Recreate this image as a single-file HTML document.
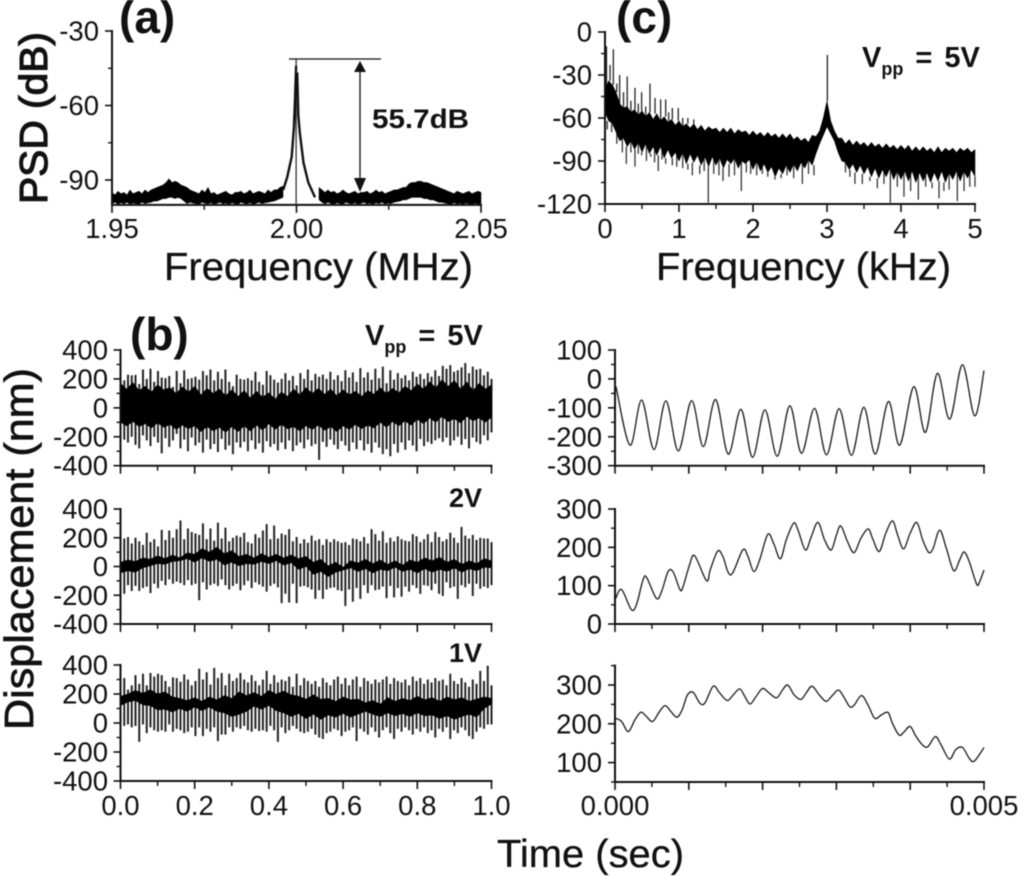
<!DOCTYPE html>
<html lang="en">
<head>
<meta charset="utf-8">
<title>Displacement and PSD measurements</title>
<style>
html,body{margin:0;padding:0;background:#fff;}
svg{display:block;width:1024px;height:877px;filter:blur(0.45px);font-family:"Liberation Sans",sans-serif;fill:#111;}
</style>
</head>
<body>
<svg id="figure" xmlns="http://www.w3.org/2000/svg" width="1024" height="877" viewBox="0 0 1024 877">
<rect x="0" y="0" width="1024" height="877" fill="#fff"/>
<text x="119" y="33" font-size="46" font-weight="bold">(a)</text>
<text x="616" y="33" font-size="46" font-weight="bold">(c)</text>
<text x="130" y="350" font-size="46" font-weight="bold">(b)</text>
<text transform="translate(47,204) rotate(-90)" font-size="39" stroke="#111" stroke-width="1.2" textLength="172" lengthAdjust="spacingAndGlyphs">PSD (dB)</text>
<text x="164" y="280" font-size="39" stroke="#111" stroke-width="0.3" textLength="309" lengthAdjust="spacingAndGlyphs">Frequency (MHz)</text>
<text x="656" y="280" font-size="39" stroke="#111" stroke-width="0.3" textLength="295" lengthAdjust="spacingAndGlyphs">Frequency (kHz)</text>
<text transform="translate(33,730) rotate(-90)" font-size="41" stroke="#111" stroke-width="0.7" textLength="362" lengthAdjust="spacingAndGlyphs">Displacement (nm)</text>
<text x="497" y="867" font-size="39" stroke="#111" stroke-width="0.3" textLength="187" lengthAdjust="spacingAndGlyphs">Time (sec)</text>
<text x="372" y="128" font-size="27" font-weight="bold" textLength="97" lengthAdjust="spacingAndGlyphs">55.7dB</text>
<text x="862" y="67" font-size="29" font-weight="bold" word-spacing="4">V<tspan font-size="18" dy="8">pp</tspan><tspan dy="-8"> = 5V</tspan></text>
<text x="365" y="345" font-size="29" font-weight="bold" word-spacing="4">V<tspan font-size="18" dy="8">pp</tspan><tspan dy="-8"> = 5V</tspan></text>
<text x="449" y="507" font-size="27" font-weight="bold">2V</text>
<text x="449" y="662" font-size="27" font-weight="bold">1V</text>
<g id="plots"></g>
</svg>
<script>
/* ---------- panel (a): PSD around 2 MHz ---------- */
const aXTicks = [1.95, 2.00, 2.05];
const aXLabels = ['1.95', '2.00', '2.05'];
const aXMinor = [1.975, 2.025];
const aYTicks = [-30, -60, -90];
const aYLabels = ['-30', '-60', '-90'];
const aYMinor = [-45, -75];
const aNoiseTop = [-95,-96,-94.5,-95.5,-95,-96,-94,-95.5,-95,-94.5,-95.5,-94,-95,
-94,-93.5,-93,-92.5,-92,-91,-89.5,-91,-90.5,-91,-92,-92.5,-93,-94,-94.5,
-95,-95.5,-94,-95,-93,-95.5,-95,-96,-95.5,-95,-94.5,-95.5,-96,-95,-95,-94.5,-95.5,-95,-94,-95.5,-95,-94.5,-95,-95.5,-94,-95,-94,-94,-93,-92.5,
null,null,null,null,null,null,null,null,null,null,null,
-93,-94,-95,-94,-95,-94.5,-95.5,-95,-94,-95,-95.5,-95,-94.5,-95.5,-95,-95,-94.5,-95.5,-95,-94,-95,-94.5,-95.5,-95,-94.5,-94,-94,
-93.5,-93,-93,-91.5,-91,-91,-90.5,-90.5,-91,-91,-91.5,-92,-92.5,-93,-93.5,-94,
-94.5,-95,-95.5,-94.5,-95,-95.5,-95,-94.5,-95.5,-95,-94.5,-95];
const aNoiseBottom = [-99.5,-99,-99.7,-99.2,-99.6,-99,-99.7,-99.3,-99.5,-99.7,-99,-99.5,-99.2,
-99,-98.5,-98.5,-98,-97.5,-97.5,-97,-97,-97.5,-97,-97.5,-98.5,-99.5,-99,-99.3,
-99.5,-99.7,-99,-99.4,-99.6,-99.2,-99.7,-99.4,-99,-99.6,-99.3,-99.7,-99.2,-99.5,-99.7,-99,-99.4,-99.6,-99.2,-99.7,-99.4,-99,-99.5,-99.2,-99,-98.7,-98.5,-98,-97.5,-97,
null,null,null,null,null,null,null,null,null,null,null,
-98,-99,-99.6,-99,-99.5,-99.7,-99.2,-99.5,-99.7,-99,-99.4,-99.6,-99.2,-99.7,-99.4,-99,-99.6,-99.3,-99.7,-99.2,-99.5,-99,-99.6,-99.3,-99.5,-99,-98.7,
-98.5,-98,-98,-97.5,-97,-97,-97,-97,-97.5,-97.5,-98,-98,-98.5,-99,-99,-99.3,
-99.5,-99.7,-99.2,-99.6,-99.4,-99.7,-99.3,-99.6,-99.7,-99.4,-99.6,-99.5];
const aLeftSkirtFreq = [1.9964,1.9975,1.9987,1.9993,1.9996,1.9999];
const aLeftSkirtDb = [-94,-88.7,-80.6,-69,-57.8,-44];
const aRightSkirtFreq = [2.0002,2.0005,2.0009,2.0019,2.0032,2.0050];
const aRightSkirtDb = [-46.7,-64,-71,-83,-91,-97];
const aCarrierFreq = [1.9999];
const aCarrierTopDb = [-41.3];
const aCarrierBottomDb = [-99.5];

/* ---------- panel (c): PSD up to 5 kHz ---------- */
const cXTicks = [0, 1, 2, 3, 4, 5];
const cXLabels = ['0', '1', '2', '3', '4', '5'];
const cXMinor = [0.5, 1.5, 2.5, 3.5, 4.5];
const cYTicks = [0, -30, -60, -90, -120];
const cYLabels = ['0', '-30', '-60', '-90', '-120'];
const cYMinor = [-15, -45, -75, -105];
const cCoreTop = [-40,-34,-37,-42,-50,-53,-52,-56,-54,-58,-55,-59,-56,-61,-57,-62,-59,-63,-61,-65,
-62,-66,-64,-67,-64,-68,-65,-69,-66,-68,-67,-70,-67,-70,-67,-71,-68,-70,-69,-72,
-69,-72,-70,-73,-70,-73,-71,-74,-71,-74,-71,-75,-73,-76,-74,-77,-72,-73,-69,-60,
-48,-62,-69,-74,-74,-78,-75,-79,-76,-79,-77,-80,-77,-80,-78,-81,-78,-81,-79,-82,
-79,-82,-79,-83,-80,-83,-80,-83,-81,-84,-80,-84,-81,-83,-81,-84,-81,-83,-81,-84,-82];
const cCoreBottom = [-56,-62,-64,-70,-76,-74,-80,-76,-82,-77,-84,-78,-85,-80,-86,-80,-88,-82,-88,-84,
-90,-84,-92,-85,-91,-86,-93,-87,-94,-87,-93,-88,-95,-89,-92,-88,-95,-90,-92,-89,
-96,-90,-97,-92,-98,-94,-101,-95,-99,-93,-98,-92,-97,-91,-95,-89,-93,-85,-78,-72,
-66,-71,-76,-84,-90,-91,-96,-92,-98,-93,-99,-94,-101,-95,-102,-96,-101,-95,-103,-97,
-103,-97,-104,-97,-105,-98,-104,-98,-105,-98,-104,-97,-105,-98,-103,-97,-104,-97,-102,-96,-101];
const cUpSpikeFreq = [0.02,0.068,0.113,0.16,0.198,0.25,0.30,0.35,0.405,0.45,0.495,0.55,0.608,0.676,0.752,0.82,0.86,0.91,0.99,1.05,1.12,1.2,3.005];
const cUpSpikeDb = [-10,-23,-12,-36,-30,-42,-31,-48,-39,-50,-42,-52,-36,-46,-47,-47,-56,-53,-53,-60,-60,-61,-16];
const cDownSpikeFreq = [0.03,0.09,0.16,0.234,0.288,0.35,0.405,0.45,0.495,0.56,0.617,0.67,0.72,0.77,0.82,0.91,0.97,1.05,1.12,1.18,1.28,1.34,1.396,1.47,1.54,1.595,1.676,1.75,1.842,1.91,1.968,2.05,2.126,2.2,2.297,2.38,2.46,2.55,2.667,2.75,2.824,3.25,3.31,3.378,3.477,3.58,3.68,3.77,3.856,3.95,4.04,4.13,4.234,4.333,4.42,4.514,4.58,4.65,4.761,4.852,4.93,5.0];
const cDownSpikeDb = [-68,-70,-78,-84,-92,-84,-94,-85,-86,-90,-87,-91,-97,-89,-92,-93,-94,-95,-96,-100,-99,-97,-119,-99,-100,-104,-101,-100,-111,-98,-99,-100,-99,-101,-103,-102,-100,-102,-106,-99,-100,-98,-101,-106,-106,-104,-109,-106,-119,-108,-115,-111,-117,-108,-109,-116,-111,-110,-118,-111,-108,-108];

/* ---------- panel (b), left column: 1 s traces ---------- */
const longXTicks = [0, 0.2, 0.4, 0.6, 0.8, 1.0];
const longXLabels = ['0.0', '0.2', '0.4', '0.6', '0.8', '1.0'];
const longXMinor = [0.1, 0.3, 0.5, 0.7, 0.9];
const longYTicks = [400, 200, 0, -200, -400];
const longYLabels = ['400', '200', '0', '-200', '-400'];
const longYMinor = [300, 100, -100, -300];

const v5PeakTop = [270,190,230,225,228,165,265,200,270,180,255,210,205,220,145,255,170,260,200,205,215,195,255,225,265,190,250,200,265,180,150,230,200,195,205,190,250,180,160,255,225,195,175,200,240,190,220,155,240,200,265,190,235,215,230,200,250,195,225,185,260,210,245,180,275,210,245,195,270,205,285,170,260,195,240,205,225,190,250,215,235,200,240,215,260,220,290,270,295,250,260,280,310,240,285,265,270,225,250,200];
const v5PeakBottom = [-180,-220,-240,-200,-255,-280,-190,-225,-265,-200,-240,-315,-210,-270,-225,-180,-280,-220,-300,-205,-260,-240,-310,-220,-285,-250,-305,-215,-290,-260,-320,-240,-275,-235,-300,-225,-285,-245,-310,-230,-270,-250,-295,-240,-285,-225,-300,-260,-240,-280,-220,-265,-250,-360,-235,-270,-220,-255,-285,-230,-260,-300,-240,-285,-225,-295,-250,-310,-240,-275,-320,-285,-335,-250,-310,-240,-290,-225,-260,-300,-215,-265,-235,-250,-225,-210,-235,-205,-260,-225,-200,-255,-215,-280,-205,-235,-250,-190,-225,-170];
const v5CoreTop = [170,130,175,120,150,110,160,125,140,100,145,110,150,90,135,100,130,85,125,80,120,70,115,75,105,60,110,80,130,90,140,100,135,95,130,85,125,90,115,80,120,95,140,100,135,105,150,120,165,130,180,140,195,150,190,130,180,120,170,130,160];
const v5CoreBottom = [-100,-125,-95,-130,-110,-140,-105,-135,-115,-150,-120,-145,-125,-165,-130,-160,-135,-170,-130,-165,-125,-160,-120,-155,-110,-150,-115,-145,-130,-160,-125,-150,-120,-155,-130,-165,-125,-150,-115,-145,-120,-140,-100,-135,-95,-125,-90,-120,-80,-110,-70,-100,-60,-95,-75,-105,-60,-90,-70,-100,-65];

const v2PeakTop = [210,195,205,160,200,175,150,235,170,190,140,255,185,250,200,260,320,190,265,240,230,220,300,190,265,180,305,195,270,175,200,215,205,235,170,160,225,200,250,295,190,285,195,230,220,260,175,205,160,190,165,215,180,190,150,190,170,190,175,165,170,150,195,190,175,205,160,260,225,180,245,165,200,175,210,190,180,175,225,210,170,190,225,170,240,205,175,190,235,200,165,275,215,195,220,185,200,195,195,170];
const v2PeakBottom = [-180,-190,-130,-170,-135,-170,-150,-140,-185,-120,-150,-100,-130,-90,-120,-105,-115,-130,-95,-130,-120,-235,-110,-160,-130,-120,-135,-90,-130,-160,-135,-120,-165,-130,-100,-150,-110,-125,-140,-175,-135,-120,-145,-255,-190,-250,-120,-255,-140,-135,-145,-160,-225,-165,-225,-160,-150,-145,-165,-170,-275,-160,-245,-150,-225,-130,-185,-130,-165,-160,-140,-220,-135,-215,-150,-210,-140,-175,-130,-150,-190,-130,-135,-165,-120,-190,-205,-110,-150,-140,-225,-130,-145,-120,-205,-120,-155,-140,-150,-130];
const v2CoreTop = [30,45,35,60,50,75,55,80,60,95,85,125,100,135,90,110,70,85,60,90,65,85,60,80,55,70,30,50,5,30,-5,40,25,50,20,45,15,40,10,45,30,60,40,65,30,50,15,40,20,55,40];
const v2CoreBottom = [-45,-30,-40,-10,5,20,15,35,40,55,30,60,35,50,10,30,5,20,15,35,20,40,10,25,-20,0,-55,-35,-70,-40,-25,-10,-35,-15,-45,-20,-30,-5,-35,-20,-45,-15,-40,-20,-35,-10,-40,-15,-30,-5,-10];

const v1PeakTop = [280,310,230,260,330,270,340,260,345,320,340,330,290,250,315,310,285,335,300,260,290,375,300,350,265,380,310,345,260,340,290,310,345,300,280,330,290,260,300,360,270,330,280,300,290,320,250,340,260,310,290,270,290,250,310,280,260,300,320,270,310,260,300,320,250,310,290,270,300,280,300,320,270,310,290,280,300,260,320,290,310,270,300,280,310,290,300,260,340,290,270,310,280,250,300,270,360,290,395,260];
const v1PeakBottom = [-100,-20,-10,-30,-20,-130,-10,-70,-30,-50,-60,-50,-60,-10,-60,-40,-50,-70,-60,-30,-90,-30,-90,-40,-60,-30,-125,-80,-80,-30,-60,-30,-40,-20,-50,-60,-40,-55,-50,-60,-20,-50,-130,-30,-70,-50,-20,-40,-60,-70,-60,-40,-80,-100,-110,-70,-60,-40,-50,-90,-60,-50,-30,-125,-40,-60,-80,-30,-60,-100,-50,-30,-70,-110,-40,-60,-30,-50,-80,-40,-60,-30,-70,-50,-100,-40,-60,-30,-110,-50,-70,-30,-50,-90,-110,-60,-30,-40,-10,-10];
const v1CoreTop = [185,200,225,205,230,200,215,180,170,155,175,150,180,160,190,170,215,190,210,185,225,200,220,195,185,165,195,165,170,150,180,160,165,140,155,130,175,150,170,155,185,160,175,150,180,160,175,150,165,180,170];
const v1CoreBottom = [120,145,155,125,120,90,95,75,100,80,110,85,110,80,70,45,60,80,115,95,120,85,70,45,65,30,60,25,55,40,65,40,60,80,60,45,70,50,65,45,70,50,55,30,50,25,45,60,40,100,130];

/* ---------- panel (b), right column: 5 ms traces ---------- */
const shortXTicks = [0, 1, 2, 3, 4, 5];
const shortXLabels = ['0.000', '', '', '', '', '0.005'];
const shortXMinor = [0.5, 1.5, 2.5, 3.5, 4.5];
const v5ZoomYTicks = [100, 0, -100, -200, -300];
const v5ZoomYLabels = ['100', '0', '-100', '-200', '-300'];
const v5ZoomYMinor = [50, -50, -150, -250];
const v2ZoomYTicks = [300, 200, 100, 0];
const v2ZoomYLabels = ['300', '200', '100', '0'];
const v2ZoomYMinor = [250, 150, 50];
const v1ZoomYTicks = [300, 200, 100];
const v1ZoomYLabels = ['300', '200', '100'];
const v1ZoomYMinor = [350, 250, 150, 50];

const v5ZoomTime = [0.014,0.203,0.361,0.528,0.690,0.858,1.038,1.196,1.363,1.534,1.706,1.864,2.031,2.198,2.369,2.527,2.703,2.866,3.037,3.204,3.371,3.529,3.705,3.858,4.048,4.206,4.368,4.535,4.707,4.874,5.0];
const v5ZoomNm = [-27,-229,-73,-244,-76,-249,-75,-234,-71,-260,-105,-271,-107,-267,-93,-257,-102,-263,-103,-264,-98,-260,-78,-229,-27,-185,19,-139,49,-128,29];
const v2ZoomTime = [.01,.09,.22,.29,.38,.43,.56,.63,.72,.79,.88,.92,1.01,1.08,1.24,1.29,1.39,1.46,1.57,1.73,1.80,1.88,1.96,2.07,2.15,2.24,2.32,2.42,2.48,2.58,2.66,2.75,2.84,2.93,3.00,3.06,3.15,3.24,3.33,3.43,3.49,3.58,3.67,3.76,3.83,3.91,4.00,4.09,4.17,4.25,4.31,4.40,4.49,4.59,4.67,4.73,4.80,4.90,4.94,5.00];
const v2ZoomNm = [67,90,38,50,115,121,67,84,137,135,90,96,154,178,113,141,190,177,128,193,177,137,167,234,210,170,219,263,245,193,228,265,219,193,232,256,215,186,223,248,223,189,237,269,232,196,237,265,219,187,197,245,197,139,167,188,163,104,110,141];
const v1ZoomTime = [.01,.09,.18,.27,.35,.42,.51,.60,.68,.76,.84,.91,.98,1.06,1.15,1.22,1.33,1.42,1.52,1.60,1.69,1.76,1.83,1.91,2.00,2.09,2.19,2.27,2.34,2.43,2.52,2.59,2.67,2.77,2.86,2.95,3.03,3.11,3.18,3.24,3.34,3.43,3.52,3.61,3.70,3.76,3.85,3.92,4.00,4.08,4.17,4.24,4.34,4.42,4.53,4.62,4.71,4.80,4.87,5.00];
const v1ZoomNm = [214,206,180,210,230,220,206,231,247,231,217,236,274,281,253,254,297,279,260,274,290,270,251,270,291,279,267,287,300,274,263,279,297,274,258,274,287,266,244,248,273,248,214,223,229,201,171,180,193,167,145,141,167,145,109,134,139,111,104,139];

const SVGNS = 'http://www.w3.org/2000/svg';
const root = document.getElementById('plots');
const linear = (d0, d1, r0, r1) => v => r0 + (v - d0) * (r1 - r0) / (d1 - d0);
const INK = '#111';

function mk(tag, name, parent) {
  const el = document.createElementNS(SVGNS, tag);
  
  
  parent.appendChild(el);
  return el;
}

function line(parent, name, x1, y1, x2, y2, width, color) {
  const el = mk('line', name, parent);
  el.setAttribute('x1', x1);
  el.setAttribute('y1', y1);
  el.setAttribute('x2', x2);
  el.setAttribute('y2', y2);
  el.setAttribute('stroke', color || INK);
  el.setAttribute('stroke-width', width);
  return el;
}

function label(parent, name, str, x, y, anchor) {
  const el = mk('text', name, parent);
  el.setAttribute('x', x);
  el.setAttribute('y', y);
  el.setAttribute('font-size', 27.5);
  el.setAttribute('text-anchor', anchor);
  el.textContent = str;
  return el;
}

function axes(g, p) {
  const xA = p.x(p.xDomain[0]), xB = p.x(p.xDomain[1]);
  const yA = p.y(p.yDomain[0]), yB = p.y(p.yDomain[1]);
  line(g, 'x-axis-line', xA - 1, yA, xB + 1, yA, 2);
  line(g, 'y-axis-line', xA, yA + 1, xA, yB - 1, 2);
  p.xTicks.forEach((t, i) => {
    line(g, 'x-tick', p.x(t), yA, p.x(t), yA + 8, 1.6);
    if (p.xLabels && p.xLabels[i]) {
      label(g, 'x-tick-label', p.xLabels[i], p.x(t), p.xBase, 'middle');
    }
  });
  p.xMinor.forEach(t => line(g, 'x-minor-tick', p.x(t), yA, p.x(t), yA + 5, 1.4));
  p.yTicks.forEach((t, i) => {
    line(g, 'y-tick', xA, p.y(t), xA - 7, p.y(t), 1.6);
    label(g, 'y-tick-label', p.yLabels[i], p.yRight, p.y(t) + 9.5, 'end');
  });
  p.yMinor.forEach(t => line(g, 'y-minor-tick', xA, p.y(t), xA - 4, p.y(t), 1.4));
}

/* filled band between two envelope series sampled on an even grid; null breaks the band */
function band(g, name, tops, bottoms, x, y, gridMin, gridMax) {
  const n = tops.length;
  const at = i => gridMin + i * (gridMax - gridMin) / (n - 1);
  let run = [];
  const flush = () => {
    if (run.length > 1) {
      const up = run.map(i => x(at(i)).toFixed(1) + ',' + y(tops[i]).toFixed(1));
      const down = run.slice().reverse().map(i => x(at(i)).toFixed(1) + ',' + y(bottoms[i]).toFixed(1));
      const poly = mk('polygon', name, g);
      poly.setAttribute('points', up.concat(down).join(' '));
      poly.setAttribute('fill', '#000');
      poly.setAttribute('stroke', '#000');
      poly.setAttribute('stroke-width', '0.5');
    }
    run = [];
  };
  for (let i = 0; i < n; i++) {
    if (tops[i] === null) { flush(); } else { run.push(i); }
  }
  flush();
}

function polyline(g, name, xs, ys, x, y, width) {
  const el = mk('polyline', name, g);
  el.setAttribute('points', xs.map((v, i) => x(v).toFixed(1) + ',' + y(ys[i]).toFixed(1)).join(' '));
  el.setAttribute('fill', 'none');
  el.setAttribute('stroke', INK);
  el.setAttribute('stroke-width', width);
  return el;
}

/* smooth curve through read-off samples */
function smoothPath(g, name, xs, ys, x, y, width) {
  const px = xs.map(x), py = ys.map(y);
  let d = 'M' + px[0].toFixed(1) + ' ' + py[0].toFixed(1);
  for (let i = 0; i < px.length - 1; i++) {
    const a = Math.max(i - 1, 0), b = Math.min(i + 2, px.length - 1);
    const c1x = px[i] + (px[i + 1] - px[a]) / 6, c1y = py[i] + (py[i + 1] - py[a]) / 6;
    const c2x = px[i + 1] - (px[b] - px[i]) / 6, c2y = py[i + 1] - (py[b] - py[i]) / 6;
    d += 'C' + [c1x, c1y, c2x, c2y, px[i + 1], py[i + 1]].map(v => v.toFixed(1)).join(' ');
  }
  const el = mk('path', name, g);
  el.setAttribute('d', d);
  el.setAttribute('fill', 'none');
  el.setAttribute('stroke', '#1a1a1a');
  el.setAttribute('stroke-width', width);
  return el;
}

/* ---- panel a ---- */
(function () {
  const g = mk('g', 'psd-mhz-panel', root);
  const x = linear(1.95, 2.05, 112, 481);
  const y = linear(-30, -90, 31, 180);
  band(g, 'noise-floor', aNoiseTop, aNoiseBottom, x, y, 1.95, 2.05);
  polyline(g, 'peak-left-skirt', aLeftSkirtFreq, aLeftSkirtDb, x, y, 2.4);
  polyline(g, 'peak-right-skirt', aRightSkirtFreq, aRightSkirtDb, x, y, 2.4);
  aCarrierFreq.forEach((f, i) => {
    line(g, 'carrier-peak', x(f), y(aCarrierTopDb[i]), x(f), y(aCarrierBottomDb[i]), 1.1);
  });
  axes(g, { x, y, xDomain: [1.95, 2.05], yDomain: [-100, -30], xTicks: aXTicks, xLabels: aXLabels, xMinor: aXMinor,
    yTicks: aYTicks, yLabels: aYLabels, yMinor: aYMinor, yRight: 99, xBase: 238 });
  line(g, 'peak-level-line', 289, 59, 381, 59, 1.3);
  line(g, 'peak-height-arrow-shaft', 360, 62, 360, 190, 1.3);
  const up = mk('polygon', 'peak-height-arrow-top', g);
  up.setAttribute('points', '360,61 354,72 366,72');
  up.setAttribute('fill', INK);
  const down = mk('polygon', 'peak-height-arrow-bottom', g);
  down.setAttribute('points', '360,192 354,178 366,178');
  down.setAttribute('fill', INK);
})();

/* ---- panel c ---- */
(function () {
  const g = mk('g', 'psd-khz-panel', root);
  const x = linear(0, 5, 605, 975);
  const y = linear(0, -120, 32, 204);
  const idx = f => Math.round(f * (cCoreTop.length - 1) / 5);
  cUpSpikeFreq.forEach((f, i) => {
    line(g, 'upward-spike', x(f), y(cUpSpikeDb[i]), x(f), y(cCoreTop[idx(f)]), 1.3, '#222');
  });
  cDownSpikeFreq.forEach((f, i) => {
    line(g, 'downward-spike', x(f), y(cDownSpikeDb[i]), x(f), y(cCoreBottom[idx(f)]), 1.3, '#333');
  });
  band(g, 'spectrum-band', cCoreTop, cCoreBottom, x, y, 0, 5);
  axes(g, { x, y, xDomain: [0, 5], yDomain: [-120, 0], xTicks: cXTicks, xLabels: cXLabels, xMinor: cXMinor,
    yTicks: cYTicks, yLabels: cYLabels, yMinor: cYMinor, yRight: 592, xBase: 238 });
})();

/* ---- left column traces ---- */
function longTrace(name, tops, bottoms, coreTop, coreBottom, yTop, yBottom, labels) {
  const g = mk('g', name, root);
  const x = linear(0, 1, 120.5, 491.5);
  const y = linear(400, -400, yTop, yBottom);
  tops.forEach((t, i) => {
    const xp = x(i / (tops.length - 1));
    line(g, 'oscillation-spike', xp, y(t), xp, y(bottoms[i]), 2, '#222');
  });
  band(g, 'trace-core', coreTop, coreBottom, x, y, 0, 1);
  axes(g, { x, y, xDomain: [0, 1], yDomain: [-400, 400], xTicks: longXTicks, xLabels: labels, xMinor: longXMinor,
    yTicks: longYTicks, yLabels: longYLabels, yMinor: longYMinor, yRight: 108, xBase: 815 });
}
longTrace('trace-5v-long', v5PeakTop, v5PeakBottom, v5CoreTop, v5CoreBottom, 350, 465.7, null);
longTrace('trace-2v-long', v2PeakTop, v2PeakBottom, v2CoreTop, v2CoreBottom, 509, 624, null);
longTrace('trace-1v-long', v1PeakTop, v1PeakBottom, v1CoreTop, v1CoreBottom, 665, 781, longXLabels);

/* ---- right column traces ---- */
function shortTrace(name, times, values, dom, yRange, yTicks, yLabels, yMinor, labels) {
  const g = mk('g', name, root);
  const x = linear(0, 5, 615, 984);
  const y = linear(dom[0], dom[1], yRange[0], yRange[1]);
  smoothPath(g, 'displacement-curve', times, values, x, y, 1.3);
  axes(g, { x, y, xDomain: [0, 5], yDomain: [dom[1], dom[0]], xTicks: shortXTicks, xLabels: labels, xMinor: shortXMinor,
    yTicks, yLabels, yMinor, yRight: 602, xBase: 815 });
}
shortTrace('trace-5v-short', v5ZoomTime, v5ZoomNm, [100, -300], [350, 465.7], v5ZoomYTicks, v5ZoomYLabels, v5ZoomYMinor, null);
shortTrace('trace-2v-short', v2ZoomTime, v2ZoomNm, [300, 0], [509, 624], v2ZoomYTicks, v2ZoomYLabels, v2ZoomYMinor, null);
shortTrace('trace-1v-short', v1ZoomTime, v1ZoomNm, [350, 50], [665.6, 782], v1ZoomYTicks, v1ZoomYLabels, v1ZoomYMinor, shortXLabels);
</script>
</body>
</html>
